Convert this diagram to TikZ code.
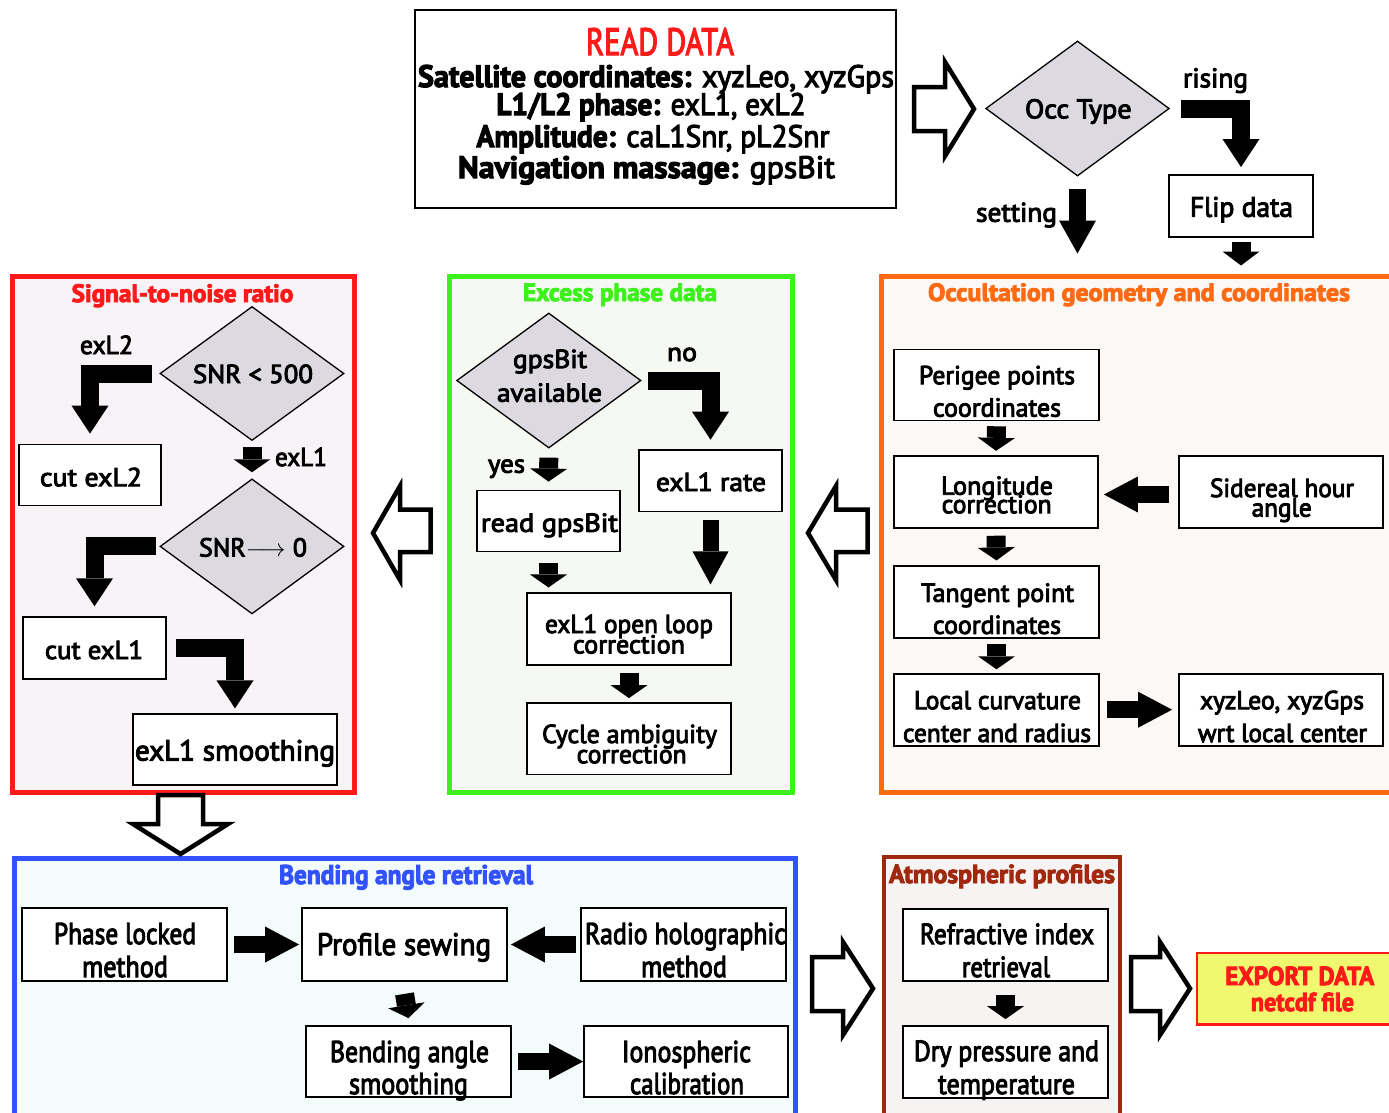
\documentclass[tikz,border=0pt]{standalone}
\usepackage{fontspec}
\setmainfont{PT Sans}[FakeBold=3.5]
\usepackage{graphicx}
\usetikzlibrary{arrows.meta,shapes.geometric}
\newcommand\fitw[2]{\resizebox{#1pt}{\height}{#2}}
\definecolor{cred}{HTML}{FF1A1A}
\definecolor{cgreen}{HTML}{3DF21C}
\definecolor{corange}{HTML}{FF6A13}
\definecolor{cblue}{HTML}{3352FF}
\definecolor{cdred}{HTML}{A0280F}
\definecolor{fred}{HTML}{F8F3F7}
\definecolor{fgreen}{HTML}{F6F8F3}
\definecolor{forange}{HTML}{FCF8F5}
\definecolor{fblue}{HTML}{F3FBFB}
\definecolor{fdred}{HTML}{F8F3F3}
\definecolor{diagray}{HTML}{DCDAE0}
\definecolor{fyellow}{HTML}{EFF86E}
\begin{document}
\begin{tikzpicture}[x=1pt,y=-1pt,
  box/.style={draw=black, line width=1.8pt, fill=white, inner sep=0pt, rectangle},
  dia/.style={diamond, draw=black, line width=1.3pt, fill=diagray, inner sep=0pt},
  sec/.style={draw, line width=5pt, inner sep=0pt, rectangle},
  tx/.style={inner sep=0pt, anchor=base, font=\fontsize{26}{30}\selectfont},
  ttl/.style={inner sep=0pt, anchor=base, font=\bfseries\fontsize{25}{30}\selectfont},
  hol/.style={draw=black, line width=4.5pt, fill=white, line join=miter},
  sarr/.style={line width=19pt, -{Triangle[width=37pt,length=13pt,line width=0pt]}},
  barr/.style={line width=18pt, line join=miter, -{Triangle[width=37pt,length=28pt,line width=0pt]}},
  harr/.style={line width=17pt, -{Triangle[width=36pt,length=34pt,line width=0pt]}}
]
\useasboundingbox (0,0) rectangle (1389,1112);
\fill[white] (0,0) rectangle (1389,1112);
\clip (0,0) rectangle (1389,1112);

% ---------- sections ----------
\node[sec, draw=cred, fill=fred, minimum width=341.5, minimum height=516.5] (snrsec) at (183.25,534.25) {};
\node[sec, draw=cgreen, fill=fgreen, minimum width=343.5, minimum height=516.5] (excsec) at (620.75,534.25) {};
\node[sec, draw=corange, fill=forange, minimum width=518.5, minimum height=516.5] (geosec) at (1140.75,534.25) {};
\node[sec, draw=cblue, fill=fblue, minimum width=781.6, minimum height=270] (bendsec) at (404.8,993.8) {};
\node[sec, draw=cdred, line width=4pt, fill=fdred, minimum width=236, minimum height=270] (atmsec) at (1001.6,992.3) {};

% ---------- READ DATA ----------
\node[box, minimum width=481, minimum height=198] (readbox) at (655.5,109) {};
\node[tx, font=\fontsize{38}{40}\selectfont, text=cred] (rd0) at (660,55) {\fitw{148}{READ DATA}};
\node[tx, font=\fontsize{31}{34}\selectfont] (rd1) at (656,87) {\fitw{476}{\textbf{Satellite coordinates:} xyzLeo, xyzGps}};
\node[tx, font=\fontsize{31}{34}\selectfont] (rd2) at (651,115) {\fitw{309}{\textbf{L1/L2 phase:} exL1, exL2}};
\node[tx, font=\fontsize{31}{34}\selectfont] (rd3) at (653,147) {\fitw{353}{\textbf{Amplitude:} caL1Snr, pL2Snr}};
\node[tx, font=\fontsize{31}{34}\selectfont] (rd4) at (646.5,178) {\fitw{377}{\textbf{Navigation massage:} gpsBit}};

% ---------- Occ type ----------
\node[dia, minimum width=183.6, minimum height=135] (occ) at (1077.5,108.5) {};
\node[tx, font=\fontsize{27}{30}\selectfont] (tocc) at (1078.3,118.3) {\fitw{106.7}{Occ Type}};
\node[tx, font=\fontsize{27}{30}\selectfont] (trise) at (1215.5,87.3) {\fitw{65}{rising}};
\node[tx, font=\fontsize{27}{30}\selectfont] (tset) at (1016.5,221.7) {\fitw{81}{setting}};
\node[box, minimum width=143.4, minimum height=61.7] (flip) at (1241,205.8) {};
\node[tx, font=\fontsize{28}{30}\selectfont] (tflip) at (1241.5,216.7) {\fitw{103}{Flip data}};

% ---------- Signal-to-noise ratio ----------
\node[ttl, text=cred] (tsnr) at (182.5,302) {\fitw{221.7}{Signal-to-noise ratio}};
\node[dia, minimum width=184, minimum height=134] (snr1) at (252,373.5) {};
\node[tx] (tsnr1) at (253,383) {\fitw{120}{SNR < 500}};
\node[tx] (texl2) at (106.5,354) {\fitw{53}{exL2}};
\node[box, minimum width=142, minimum height=61] (cut2) at (90,475) {};
\node[tx] (tcut2) at (91,486.2) {\fitw{102}{cut exL2}};
\node[tx] (texl1) at (301,466) {\fitw{52}{exL1}};
\node[dia, minimum width=184, minimum height=135] (snr2) at (252,546.4) {};
\node[tx] (tsnr2) at (253,556.5) {\fitw{108}{SNR$\longrightarrow$ 0}};
\node[box, minimum width=143, minimum height=61.5] (cut1) at (94.5,648) {};
\node[tx] (tcut1) at (94,659) {\fitw{98}{cut exL1}};
\node[box, minimum width=204, minimum height=71] (smooth) at (235,749.8) {};
\node[tx, font=\fontsize{29}{30}\selectfont] (tsmooth) at (235,760.5) {\fitw{200}{exL1 smoothing}};

% ---------- Excess phase data ----------
\node[ttl, text=cgreen] (texc) at (620,301) {\fitw{194}{Excess phase data}};
\node[dia, minimum width=184.3, minimum height=135] (gps) at (548.8,380.5) {};
\node[tx] (tgps1) at (550,368) {\fitw{74}{gpsBit}};
\node[tx] (tgps2) at (549.5,401.7) {\fitw{105}{available}};
\node[tx] (tno) at (682,361) {\fitw{30}{no}};
\node[tx] (tyes) at (506.5,472.7) {\fitw{37}{yes}};
\node[box, minimum width=143, minimum height=61.5] (rate) at (710.5,480.8) {};
\node[tx] (trate) at (711,491) {\fitw{110}{exL1 rate}};
\node[box, minimum width=143, minimum height=61] (read) at (548.5,521) {};
\node[tx] (tread) at (549.5,531.8) {\fitw{137}{read gpsBit}};
\node[box, minimum width=204, minimum height=71.3] (ol) at (629,629) {};
\node[tx] (tol1) at (629,633) {\fitw{168}{exL1 open loop}};
\node[tx] (tol2) at (629,653.4) {\fitw{112}{correction}};
\node[box, minimum width=204, minimum height=71.4] (cyc) at (629,738.7) {};
\node[tx] (tcyc1) at (629.5,743) {\fitw{175}{Cycle ambiguity}};
\node[tx] (tcyc2) at (631.7,763.2) {\fitw{110}{correction}};

% ---------- Occultation geometry ----------
\node[ttl, text=corange] (tgeo) at (1139,301) {\fitw{422}{Occultation geometry and coordinates}};
\node[box, minimum width=205, minimum height=71] (per) at (996.5,384.9) {};
\node[tx] (tper1) at (997,384.2) {\fitw{156}{Perigee points}};
\node[tx] (tper2) at (997,416.6) {\fitw{128}{coordinates}};
\node[box, minimum width=204, minimum height=72.6] (lon) at (996,492) {};
\node[tx] (tlon1) at (997,494.7) {\fitw{112}{Longitude}};
\node[tx] (tlon2) at (996.7,513.2) {\fitw{110}{correction}};
\node[box, minimum width=204, minimum height=72.6] (sid) at (1281,492) {};
\node[tx] (tsid1) at (1282,497) {\fitw{144}{Sidereal hour}};
\node[tx] (tsid2) at (1281.7,516.6) {\fitw{60}{angle}};
\node[box, minimum width=205, minimum height=71.3] (tan) at (996.5,602) {};
\node[tx] (ttan1) at (997.5,601.8) {\fitw{153}{Tangent point}};
\node[tx] (ttan2) at (997,633.9) {\fitw{128}{coordinates}};
\node[box, minimum width=205, minimum height=72] (loc) at (996.5,709.7) {};
\node[tx] (tloc1) at (997.5,709.2) {\fitw{167}{Local curvature}};
\node[tx] (tloc2) at (997,742) {\fitw{188}{center and radius}};
\node[box, minimum width=204, minimum height=72] (xyz) at (1281,709.7) {};
\node[tx] (txyz1) at (1282,709.2) {\fitw{164}{xyzLeo, xyzGps}};
\node[tx] (txyz2) at (1282.5,742) {\fitw{169}{wrt local center}};

% ---------- Bending angle retrieval ----------
\node[ttl, text=cblue, font=\bfseries\fontsize{27}{30}\selectfont] (tbend) at (406,884) {\fitw{254}{Bending angle retrieval}};
\node[box, minimum width=205, minimum height=73] (pha) at (124.5,944.5) {};
\node[tx, font=\fontsize{30}{30}\selectfont] (tpha1) at (125,944) {\fitw{142}{Phase locked}};
\node[tx, font=\fontsize{30}{30}\selectfont] (tpha2) at (125,977) {\fitw{86}{method}};
\node[box, minimum width=205, minimum height=73] (prof) at (404.5,944.5) {};
\node[tx, font=\fontsize{31}{30}\selectfont] (tprof) at (404,955) {\fitw{174}{Profile sewing}};
\node[box, minimum width=205, minimum height=73] (rad) at (683.5,944.5) {};
\node[tx, font=\fontsize{30}{30}\selectfont] (trad1) at (685.5,944) {\fitw{201}{Radio holographic}};
\node[tx, font=\fontsize{30}{30}\selectfont] (trad2) at (684,977) {\fitw{86}{method}};
\node[box, minimum width=205, minimum height=71] (bend) at (408.5,1061.5) {};
\node[tx, font=\fontsize{30}{30}\selectfont] (tbnd1) at (409.5,1062) {\fitw{159}{Bending angle}};
\node[tx, font=\fontsize{30}{30}\selectfont] (tbnd2) at (408.5,1094) {\fitw{119}{smoothing}};
\node[box, minimum width=204, minimum height=71] (iono) at (686,1061.5) {};
\node[tx, font=\fontsize{30}{30}\selectfont] (tion1) at (686.5,1062) {\fitw{129}{Ionospheric}};
\node[tx, font=\fontsize{30}{30}\selectfont] (tion2) at (687,1094) {\fitw{114}{calibration}};

% ---------- Atmospheric profiles ----------
\node[ttl, text=cdred, font=\bfseries\fontsize{26}{30}\selectfont] (tatm) at (1002,883) {\fitw{226}{Atmospheric profiles}};
\node[box, minimum width=205, minimum height=72] (ref) at (1005.5,945) {};
\node[tx, font=\fontsize{29}{30}\selectfont] (tref1) at (1007,944) {\fitw{174}{Refractive index}};
\node[tx, font=\fontsize{29}{30}\selectfont] (tref2) at (1006,977) {\fitw{88}{retrieval}};
\node[box, minimum width=205, minimum height=72] (dry) at (1005.5,1062) {};
\node[tx, font=\fontsize{29}{30}\selectfont] (tdry1) at (1006.5,1061) {\fitw{185}{Dry pressure and}};
\node[tx, font=\fontsize{29}{30}\selectfont] (tdry2) at (1006.5,1094) {\fitw{137}{temperature}};

% ---------- Export ----------
\node[rectangle, draw=cred, line width=2.5pt, fill=fyellow, minimum width=203, minimum height=71.5, inner sep=0pt] (export) at (1298.5,988.5) {};
\node[tx, font=\bfseries\fontsize{26}{30}\selectfont, text=cred] (texp1) at (1299.7,985) {\fitw{149}{EXPORT DATA}};
\node[tx, font=\bfseries\fontsize{26}{30}\selectfont, text=cred] (texp2) at (1302.5,1011) {\fitw{103}{netcdf file}};

% ---------- hollow arrows ----------
\draw[hol] (914,87) -- (945,87) -- (945,62) -- (974,109) -- (945,156) -- (945,131) -- (914,131) -- cycle;
\draw[hol] (373,533) -- (400,486) -- (400,509.5) -- (430.5,509.5) -- (430.5,552) -- (400,552) -- (400,580) -- cycle;
\draw[hol] (808,533) -- (836,486) -- (836,509.5) -- (867.5,509.5) -- (867.5,552) -- (836,552) -- (836,580) -- cycle;
\draw[hol] (158,795) -- (203,795) -- (203,824) -- (228,824) -- (180.5,854) -- (133,824) -- (158,824) -- cycle;
\draw[hol] (812,957) -- (843,957) -- (843,942) -- (873,988.5) -- (843,1035) -- (843,1011) -- (812,1011) -- cycle;
\draw[hol] (1131,957) -- (1160,957) -- (1160,942) -- (1190,988.5) -- (1160,1035) -- (1160,1011) -- (1131,1011) -- cycle;

% ---------- block arrows ----------
\draw[barr] ([xshift=11pt]occ.east) -| ([yshift=7pt]flip.north);
\draw[line width=17pt, -{Triangle[width=37pt,length=33pt,line width=0pt]}] ([yshift=-12pt]occ.south) -- ([yshift=20pt]occ.south |- geosec.north);
\draw[line width=19pt, -{Triangle[width=37pt,length=14pt,line width=0pt]}] ([yshift=-4pt]flip.south) -- ([yshift=8pt]flip.south |- geosec.north);

\draw[barr] ([xshift=-7pt]snr1.west) -| ([yshift=10pt]cut2.north);
\draw[sarr] ([yshift=-5.5pt]snr1.south) -- ([yshift=6pt]snr2.north);
\draw[barr] ([xshift=-3pt]snr2.west) -| ([yshift=10pt]cut1.north);
\draw[barr] ([xshift=9pt]cut1.east) -| ([yshift=5pt]smooth.north);

\draw[barr] ([xshift=6pt]gps.east) -| ([yshift=9.5pt]rate.north);
\draw[sarr] ([yshift=-9pt]gps.south) -- ([yshift=8pt]read.north);
\draw[sarr] ([yshift=-10.5pt]read.south) -- ([yshift=5pt]read.south |- ol.north);
\draw[line width=16pt, -{Triangle[width=36pt,length=33pt,line width=0pt]}] ([yshift=-7.5pt]rate.south) -- ([yshift=8pt]rate.south |- ol.north);
\draw[sarr] ([yshift=-7.5pt]ol.south) -- ([yshift=4pt]cyc.north);

\draw[sarr] ([yshift=-5pt]per.south) -- ([yshift=4pt]lon.north);
\draw[harr] ([xshift=-9pt,yshift=-2.5pt]sid.west) -- ([xshift=5pt,yshift=-2.5pt]lon.east);
\draw[sarr] ([yshift=-6.5pt]lon.south) -- ([yshift=5pt]tan.north);
\draw[sarr] ([yshift=-5.5pt]tan.south) -- ([yshift=3.5pt]loc.north);
\draw[harr] ([xshift=7pt]loc.east) -- ([xshift=-6pt]xyz.west);

\draw[harr] ([xshift=6pt]pha.east) -- ([xshift=-2pt]prof.west);
\draw[harr] ([xshift=-4pt]rad.west) -- ([xshift=3pt]prof.east);
\draw[sarr] ([yshift=-12pt]prof.south) -- ([yshift=7pt]bend.north);
\draw[harr] ([xshift=6pt]bend.east) -- (iono.west);

\draw[sarr] ([yshift=-13pt]ref.south) -- ([yshift=6pt]dry.north);
\end{tikzpicture}
\end{document}
